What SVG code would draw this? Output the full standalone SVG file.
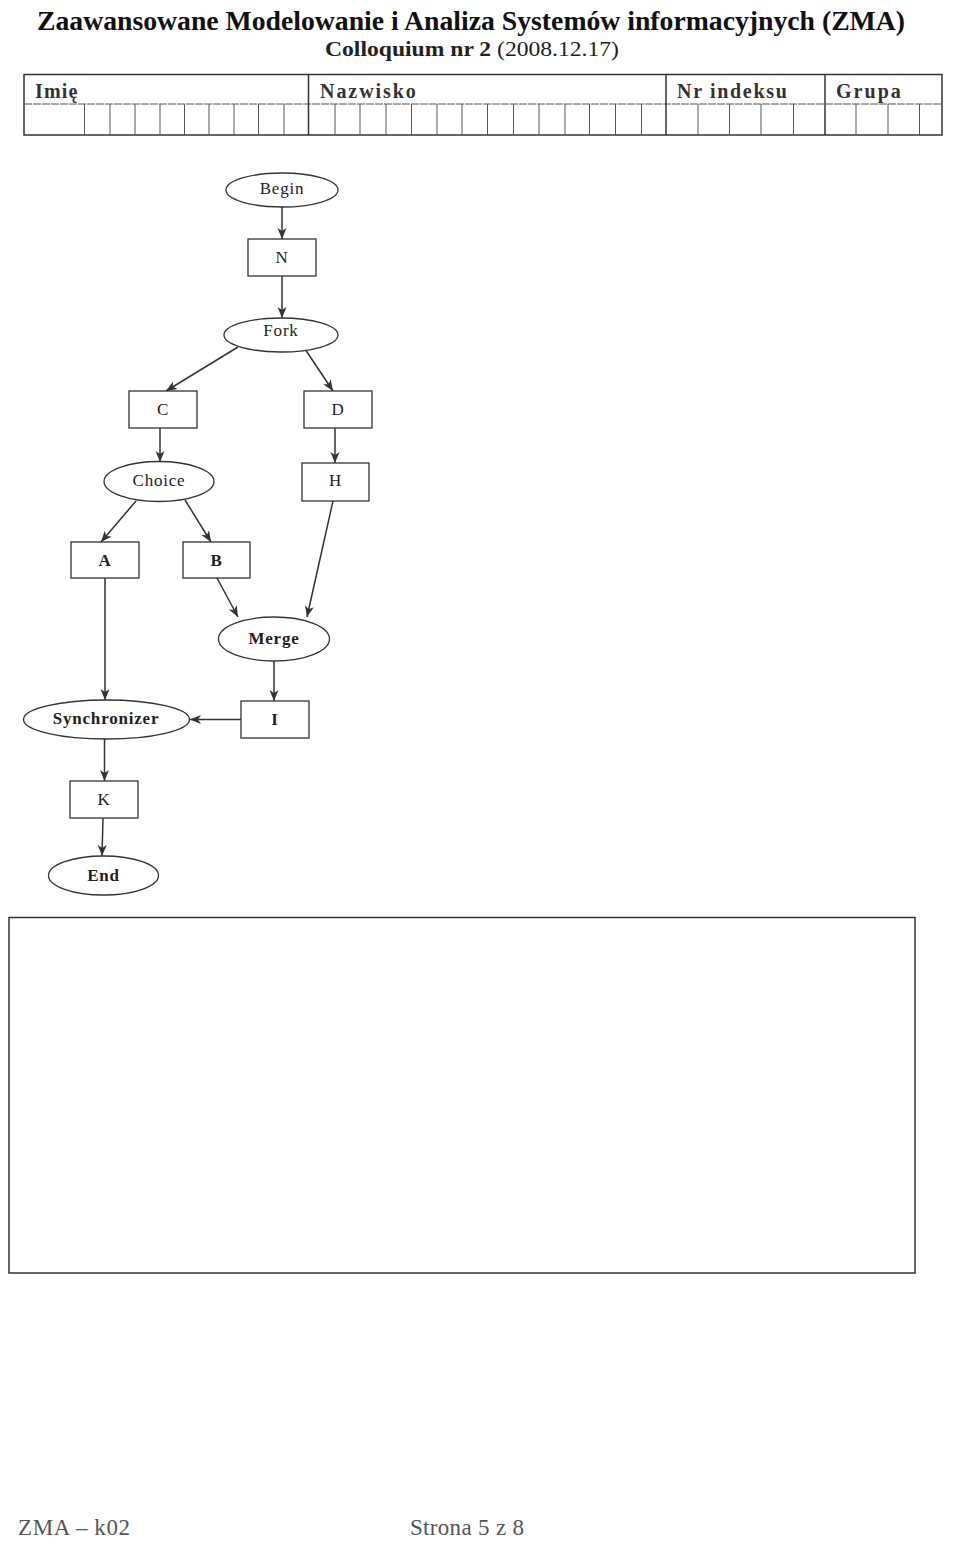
<svg xmlns="http://www.w3.org/2000/svg" width="954" height="1545" viewBox="0 0 954 1545">
<style>
.serif{font-family:"Liberation Serif","Times New Roman",serif}
.node{fill:#fff;stroke:#333;stroke-width:1.3}
.lbl{font-family:"Liberation Serif","Times New Roman",serif;font-size:17px;fill:#222;text-anchor:middle;letter-spacing:0.8px}
.b{font-weight:bold}
.conn line{stroke:#333;stroke-width:1.5;marker-end:url(#arr)}
.tb{stroke:#333;stroke-width:1.5;fill:none}
.cell{stroke:#555;stroke-width:1}
.hdr{font-family:"Liberation Serif","Times New Roman",serif;font-size:20px;font-weight:bold;fill:#333;letter-spacing:1.2px}
.foot{font-family:"Liberation Serif","Times New Roman",serif;font-size:23px;fill:#555}
</style>
<defs>
<marker id="arr" markerUnits="userSpaceOnUse" markerWidth="12" markerHeight="12" viewBox="0 0 12 12" refX="11" refY="6" orient="auto">
<path d="M0,1.5 L11,6 L0,10.5 L3,6 Z" fill="#333"/>
</marker>
</defs>
<rect x="0" y="0" width="954" height="1545" fill="#fff"/>

<g id="header">
<text class="serif" x="471" y="30" font-size="27" font-weight="bold" text-anchor="middle" fill="#111" textLength="868" lengthAdjust="spacingAndGlyphs">Zaawansowane Modelowanie i Analiza Systemów informacyjnych (ZMA)</text>
<text class="serif" x="472" y="56" font-size="21" text-anchor="middle" fill="#222" textLength="294" lengthAdjust="spacingAndGlyphs"><tspan font-weight="bold">Colloquium nr 2</tspan> (2008.12.17)</text>
</g>

<g id="form-table">
<rect class="tb" x="24" y="74.5" width="918" height="60.5"/>
<line class="cell" x1="24" y1="104" x2="942" y2="104" stroke-dasharray="8 1"/>
<line class="tb" x1="308.5" y1="74.5" x2="308.5" y2="135"/>
<line class="tb" x1="666" y1="74.5" x2="666" y2="135"/>
<line class="tb" x1="825" y1="74.5" x2="825" y2="135"/>
<g class="cell">
<line x1="84.5" y1="104" x2="84.5" y2="135"/><line x1="110" y1="104" x2="110" y2="135"/><line x1="135" y1="104" x2="135" y2="135"/><line x1="160" y1="104" x2="160" y2="135"/><line x1="184.5" y1="104" x2="184.5" y2="135"/><line x1="209" y1="104" x2="209" y2="135"/><line x1="234" y1="104" x2="234" y2="135"/><line x1="258.5" y1="104" x2="258.5" y2="135"/><line x1="284" y1="104" x2="284" y2="135"/>
<line x1="335" y1="104" x2="335" y2="135"/><line x1="360" y1="104" x2="360" y2="135"/><line x1="386" y1="104" x2="386" y2="135"/><line x1="411.5" y1="104" x2="411.5" y2="135"/><line x1="437" y1="104" x2="437" y2="135"/><line x1="462" y1="104" x2="462" y2="135"/><line x1="487.5" y1="104" x2="487.5" y2="135"/><line x1="513.5" y1="104" x2="513.5" y2="135"/><line x1="539" y1="104" x2="539" y2="135"/><line x1="565" y1="104" x2="565" y2="135"/><line x1="589.5" y1="104" x2="589.5" y2="135"/><line x1="615.5" y1="104" x2="615.5" y2="135"/><line x1="641.5" y1="104" x2="641.5" y2="135"/>
<line x1="698" y1="104" x2="698" y2="135"/><line x1="729.5" y1="104" x2="729.5" y2="135"/><line x1="761" y1="104" x2="761" y2="135"/><line x1="793.5" y1="104" x2="793.5" y2="135"/>
<line x1="856" y1="104" x2="856" y2="135"/><line x1="888" y1="104" x2="888" y2="135"/><line x1="919.5" y1="104" x2="919.5" y2="135"/>
</g>
<text class="hdr" x="35" y="98" fill="#111">Imię</text>
<text class="hdr" x="320" y="98" textLength="97">Nazwisko</text>
<text class="hdr" x="677" y="98" textLength="111">Nr indeksu</text>
<text class="hdr" x="836" y="98" textLength="66">Grupa</text>
</g>

<g id="connectors" class="conn">
<line x1="282" y1="207" x2="282" y2="239"/>
<line x1="282" y1="276" x2="282" y2="318"/>
<line x1="238" y1="347" x2="166" y2="391"/>
<line x1="305" y1="349" x2="333" y2="391"/>
<line x1="160" y1="428" x2="160" y2="462"/>
<line x1="335" y1="428" x2="335" y2="463"/>
<line x1="136" y1="501" x2="101" y2="542"/>
<line x1="185" y1="500" x2="211" y2="542"/>
<line x1="217" y1="578" x2="238" y2="617"/>
<line x1="333" y1="501" x2="307" y2="617"/>
<line x1="105" y1="578" x2="105" y2="700"/>
<line x1="274" y1="661" x2="274" y2="701"/>
<line x1="241" y1="719.5" x2="190" y2="719.5"/>
<line x1="104.5" y1="739" x2="104.5" y2="781"/>
<line x1="103" y1="818" x2="102" y2="856"/>
</g>

<g id="Begin"><ellipse class="node" cx="282" cy="190" rx="56" ry="17"/><text class="lbl" x="282" y="194">Begin</text></g>
<g id="N"><rect class="node" x="248" y="239" width="68" height="37"/><text class="lbl" x="282" y="263">N</text></g>
<g id="Fork"><ellipse class="node" cx="281" cy="335" rx="57" ry="17"/><text class="lbl" x="281" y="336">Fork</text></g>
<g id="C"><rect class="node" x="129" y="391" width="68" height="37"/><text class="lbl" x="163" y="415">C</text></g>
<g id="D"><rect class="node" x="304" y="391" width="68" height="37"/><text class="lbl" x="338" y="415">D</text></g>
<g id="Choice"><ellipse class="node" cx="159" cy="481.5" rx="55" ry="20"/><text class="lbl" x="159" y="486">Choice</text></g>
<g id="H"><rect class="node" x="302" y="463" width="67" height="38"/><text class="lbl" x="335.5" y="486">H</text></g>
<g id="A"><rect class="node" x="71" y="542" width="68" height="36"/><text class="lbl b" x="105" y="566">A</text></g>
<g id="B"><rect class="node" x="183" y="542" width="67" height="36"/><text class="lbl b" x="216.5" y="566">B</text></g>
<g id="Merge"><ellipse class="node" cx="274" cy="639" rx="55.5" ry="22"/><text class="lbl b" x="274" y="644">Merge</text></g>
<g id="Synchronizer"><ellipse class="node" cx="106.5" cy="719.5" rx="83" ry="19.5"/><text class="lbl b" x="106" y="724">Synchronizer</text></g>
<g id="I"><rect class="node" x="241" y="701" width="68" height="37"/><text class="lbl b" x="275" y="725">I</text></g>
<g id="K"><rect class="node" x="70" y="781" width="68" height="37"/><text class="lbl" x="104" y="805">K</text></g>
<g id="End"><ellipse class="node" cx="103.5" cy="875.5" rx="55" ry="19.5"/><text class="lbl b" x="103.5" y="881">End</text></g>

<g id="answer-box"><rect x="9" y="917.5" width="906" height="355.5" fill="none" stroke="#333" stroke-width="1.5"/></g>

<g id="footer">
<text class="foot" x="18" y="1535" textLength="112">ZMA – k02</text>
<text class="foot" x="410" y="1535" textLength="114">Strona 5 z 8</text>
</g>
</svg>
